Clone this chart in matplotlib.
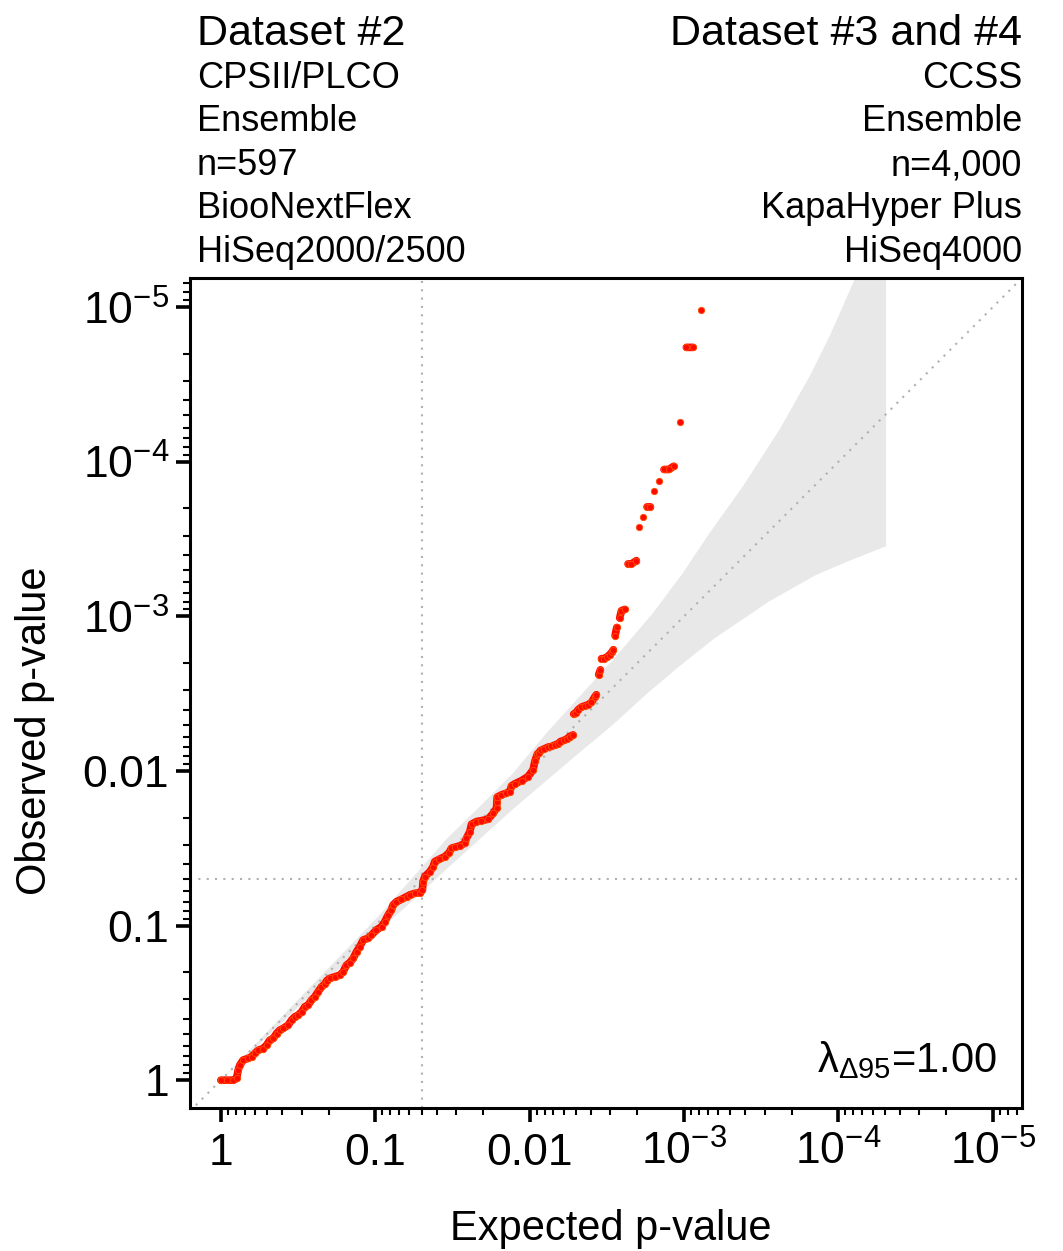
#! /usr/bin/env python3

import matplotlib
matplotlib.use('Agg')
import matplotlib.pyplot as plt
import numpy as np

# -log10(expected p), -log10(observed p)
expected_mlog10 = [
    0.00, 0.037, 0.080, 0.102, 0.112, 0.123, 0.144, 0.177, 0.199, 0.220, 0.242, 0.274,
    0.296, 0.317, 0.339, 0.361, 0.382, 0.403, 0.436, 0.458, 0.479, 0.501, 0.523, 0.544,
    0.565, 0.587, 0.609, 0.630, 0.652, 0.674, 0.685, 0.706, 0.739, 0.771, 0.792, 0.814,
    0.835, 0.857, 0.879, 0.900, 0.922, 0.954, 0.976, 1.008, 1.041, 1.062, 1.084, 1.105,
    1.116, 1.138, 1.170, 1.203, 1.224, 1.256, 1.289, 1.306, 1.310, 1.321,
    1.354, 1.375, 1.386, 1.414, 1.451, 1.479, 1.494, 1.516, 1.548, 1.580, 1.591, 1.613,
    1.624, 1.656, 1.688, 1.731, 1.764, 1.786, 1.788, 1.790, 1.818, 1.850, 1.872, 1.883,
    1.904, 1.948, 1.990, 2.023, 2.034,
    2.051, 2.062, 2.071, 2.092, 2.120, 2.142, 2.163, 2.185, 2.200, 2.221, 2.243, 2.260, 2.282,
    2.286, 2.299, 2.314, 2.336, 2.358, 2.379, 2.401, 2.422, 2.433,
    2.448, 2.459, 2.466, 2.482, 2.502, 2.519, 2.534, 2.543, 2.554, 2.565, 2.584, 2.595, 2.617,
    2.638, 2.660, 2.692, 2.712, 2.733, 2.761, 2.783, 2.806, 2.839, 2.871, 2.902, 2.934,
    2.975, 3.016, 3.059, 3.113]
observed_mlog10 = [
    0.00, 0.00, 0.00, 0.011, 0.065, 0.097, 0.130, 0.141, 0.151, 0.173, 0.194, 0.205,
    0.227, 0.259, 0.270, 0.302, 0.324, 0.335, 0.356, 0.389, 0.410, 0.421, 0.442, 0.475,
    0.486, 0.518, 0.540, 0.572, 0.604, 0.622, 0.643, 0.659, 0.669, 0.680, 0.701, 0.745,
    0.760, 0.788, 0.831, 0.863, 0.907, 0.918, 0.939, 0.972, 0.993, 1.025, 1.069, 1.101,
    1.134, 1.155, 1.170, 1.187, 1.198, 1.209, 1.213, 1.231, 1.284, 1.317,
    1.349, 1.381, 1.414, 1.429, 1.446, 1.472, 1.501, 1.507, 1.516, 1.533, 1.565, 1.608,
    1.656, 1.673, 1.679, 1.688, 1.727, 1.760, 1.802, 1.831, 1.846, 1.857, 1.867, 1.904,
    1.917, 1.938, 1.964, 2.008, 2.062,
    2.111, 2.120, 2.133, 2.142, 2.155, 2.159, 2.168, 2.176, 2.191, 2.198, 2.209, 2.223, 2.234,
    2.369, 2.375, 2.396, 2.414, 2.422, 2.429, 2.444, 2.479, 2.494,
    2.623, 2.655, 2.727, 2.727, 2.738, 2.753, 2.770, 2.785, 2.876, 2.929, 2.990, 3.037, 3.046,
    3.340, 3.340, 3.361, 3.582, 3.646, 3.709, 3.709, 3.815, 3.878, 3.951, 3.951, 3.972,
    4.257, 4.741, 4.741, 4.985]

# 95% band edges (-log10 scale)
band_upper_x = [0.0, 0.50, 1.03, 1.462, 1.677, 1.893, 2.109, 2.325, 2.541, 2.800, 2.994,
                3.167, 3.383, 3.620, 3.815, 3.944, 4.030, 4.106, 4.31]
band_upper_y = [0.0, 0.52, 1.07, 1.560, 1.770, 1.986, 2.245, 2.483, 2.720, 3.023, 3.282,
                3.541, 3.843, 4.210, 4.555, 4.814, 5.008, 5.181, 5.50]
band_lower_x = [0.0, 0.5, 1.0, 1.5, 1.9, 2.1, 2.3, 2.54, 2.76, 2.973, 3.2, 3.556, 3.858,
                4.095, 4.31]
band_lower_y = [0.0, 0.47, 0.94, 1.40, 1.76, 1.93, 2.10, 2.30, 2.50, 2.68, 2.86, 3.10, 3.27,
                3.37, 3.454]

tick_pos = [0, 1, 2, 3, 4, 5]
tick_labels = ['1', '0.1', '0.01', r'$\mathregular{10^{-3}}$',
               r'$\mathregular{10^{-4}}$', r'$\mathregular{10^{-5}}$']
sig_p = 0.05
lambda_text = r'$\mathregular{\lambda_{\Delta 95}}$=1.00'

left_header = ['Dataset #2', 'CPSII/PLCO', 'Ensemble', 'n=597', 'BiooNextFlex',
               'HiSeq2000/2500']
right_header = ['Dataset #3 and #4', 'CCSS', 'Ensemble', 'n=4,000', 'KapaHyper Plus',
                'HiSeq4000']


def mkplot():
    plt.rcParams['font.family'] = ['Liberation Sans', 'DejaVu Sans']
    plt.rcParams['mathtext.fontset'] = 'custom'
    plt.rcParams['mathtext.rm'] = 'Liberation Sans'
    plt.rcParams['mathtext.it'] = 'Liberation Sans:italic'
    plt.rcParams['mathtext.sf'] = 'Liberation Sans'

    fig = plt.figure(figsize=(10.63, 12.51), dpi=100)
    ax = fig.add_axes([0.1787, 0.1143, 0.7827, 0.6635])
    ax.set_xlim(-0.2, 5.19)
    ax.set_ylim(-0.18, 5.19)

    # confidence band
    bx = np.concatenate([band_upper_x, band_lower_x[::-1]])
    by = np.concatenate([band_upper_y, band_lower_y[::-1]])
    ax.fill(bx, by, color='#e8e8e8', lw=0, zorder=1)

    # reference lines
    dot = (0, (1, 3))
    ax.plot([-0.2, 5.19], [-0.2, 5.19], color='#b0b0b0', lw=1.5, ls=dot, zorder=2)
    sig = -np.log10(sig_p)
    ax.axvline(sig, color='#b0b0b0', lw=1.5, ls=dot, zorder=2)
    ax.axhline(sig, color='#b0b0b0', lw=1.5, ls=dot, zorder=2)

    # observed points: connect dense runs, leave sparse points as dots
    x = np.array(expected_mlog10)
    y = np.array(observed_mlog10)
    gaps = np.hypot(np.diff(x), np.diff(y)) > 0.06
    lx, ly = [x[0]], [y[0]]
    for i in range(1, len(x)):
        if gaps[i - 1]:
            lx.append(np.nan)
            ly.append(np.nan)
        lx.append(x[i])
        ly.append(y[i])
    ax.plot(lx, ly, color='#ff0800', lw=5.5, solid_capstyle='round', zorder=3)
    ax.plot(x, y, 'o', color='#ff0800', ms=4.6, mec='#ff5000', mew=0.6, zorder=4)

    # ticks
    minor = []
    for d in range(1, 7):
        for k in range(2, 10):
            v = d - np.log10(k)
            if v < 5.19:
                minor.append(v)
    ax.set_xticks(tick_pos)
    ax.set_yticks(tick_pos)
    ax.set_xticks(minor, minor=True)
    ax.set_yticks(minor, minor=True)
    ax.set_xticklabels(tick_labels, fontsize=32, va='baseline')
    ax.set_yticklabels(tick_labels, fontsize=32, va='center_baseline')
    ax.tick_params(which='major', direction='out', length=10, width=2.6)
    ax.tick_params(which='minor', direction='out', length=5, width=1.5)
    ax.tick_params(axis='x', which='major', pad=31)
    ax.tick_params(axis='y', which='major', pad=5)
    for s in ax.spines.values():
        s.set_linewidth(2.2)

    ax.text(0.970, 0.0434, lambda_text, transform=ax.transAxes, fontsize=30,
            ha='right', va='baseline')

    fig.text(0.5748, 0.0088, 'Expected p-value', fontsize=30, ha='center',
             va='baseline')
    fig.text(0.033, 0.4157, 'Observed p-value', fontsize=30, ha='center',
             va='center', rotation=90)

    # header
    baselines = [45, 88, 131, 175, 218, 262]
    for i, (lt, rt) in enumerate(zip(left_header, right_header)):
        fs = 31 if i == 0 else 26
        yb = 1 - baselines[i] / 1251
        fig.text(0.1853, yb, lt, fontsize=fs, ha='left', va='baseline')
        fig.text(0.9614, yb, rt, fontsize=fs, ha='right', va='baseline')

    plt.savefig('out.png', dpi=100)


if __name__ == "__main__":
    mkplot()
